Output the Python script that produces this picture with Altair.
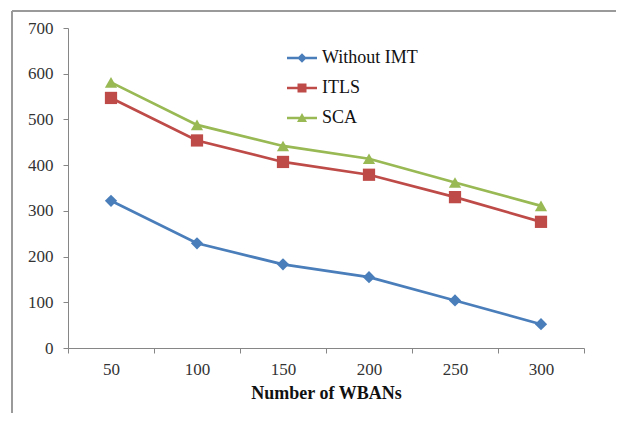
import altair as alt
import pandas as pd

x_labels = ["50", "100", "150", "200", "250", "300"]
series_names = ["Without IMT", "ITLS", "SCA"]
without_imt = [322, 229, 183, 155, 104, 52]
itls = [547, 454, 407, 379, 330, 276]
sca = [581, 488, 442, 414, 362, 311]
colors = ["#4A7EBB", "#BE4B48", "#98B954"]
marker_shapes = ["diamond", "square", "triangle-up"]
y_ticks = [0, 100, 200, 300, 400, 500, 600, 700]

# legend symbols: line segment + marker (unit = sqrt(size)/2 px)
LINE = "M-3.0,-0.25H3.0V0.25H-3.0Z"
legend_paths = [
    LINE + "M0,-0.95L0.95,0L0,0.95L-0.95,0Z",
    LINE + "M-0.9,-0.9H0.9V0.9H-0.9Z",
    LINE + "M0,-1.0L1.0,0.8H-1.0Z",
]

rows = []
for name, vals in zip(series_names, [without_imt, itls, sca]):
    for x, v in zip(x_labels, vals):
        rows.append({"wbans": x, "series": name, "value": v})
df = pd.DataFrame(rows)

FONT = "Liberation Serif, Times New Roman, serif"
AXC = "#868686"

x_enc = alt.X(
    "wbans:N",
    sort=x_labels,
    scale=alt.Scale(type="band", paddingInner=0, paddingOuter=0),
    axis=alt.Axis(
        title="Number of WBANs", labelAngle=0, tickBand="extent", grid=False,
        labelFont=FONT, labelFontSize=17, labelColor="#333333", labelPadding=8,
        titleFont=FONT, titleFontSize=18, titleFontWeight="bold", titleColor="#111111",
        titlePadding=7, domainColor=AXC, tickColor=AXC, tickSize=5,
    ),
)
y_enc = alt.Y(
    "value:Q",
    scale=alt.Scale(domain=[0, 700], nice=False),
    axis=alt.Axis(
        title=None, values=y_ticks, grid=False, labelFont=FONT, labelFontSize=17,
        labelColor="#333333", labelPadding=10, domainColor=AXC, tickColor=AXC, tickSize=5,
    ),
)
col_scale = alt.Scale(domain=series_names, range=colors)

lines = alt.Chart(df).mark_line(strokeWidth=2.7).encode(
    x=x_enc, y=y_enc,
    color=alt.Color("series:N", scale=col_scale, legend=None),
    detail="series:N",
)
points = alt.Chart(df).mark_point(filled=True, opacity=1, size=150).encode(
    x=x_enc, y=y_enc,
    color=alt.Color("series:N", scale=col_scale, legend=None),
    shape=alt.Shape("series:N", scale=alt.Scale(domain=series_names, range=marker_shapes), legend=None),
)

leg_kw = dict(
    orient="none", legendX=225, legendY=21, title=None, labelFont=FONT,
    labelFontSize=18, labelColor="#111111", symbolSize=100, symbolOpacity=1,
    symbolStrokeWidth=0, labelOffset=11, rowPadding=12, padding=0, direction="vertical",
)
legend_layer = alt.Chart(df).mark_point(filled=True, opacity=0, size=100).encode(
    x=x_enc, y=y_enc,
    color=alt.Color("series:N", scale=col_scale, legend=alt.Legend(**leg_kw)),
    shape=alt.Shape("series:N", scale=alt.Scale(domain=series_names, range=legend_paths),
                    legend=alt.Legend(**leg_kw)),
)

frame_df = pd.DataFrame({"k": [0]})
frame_left = alt.Chart(frame_df).mark_rule(color="#9a9a9a", strokeWidth=2).encode(
    x=alt.value(-56), y=alt.value(-17), y2=alt.value(430)
)
frame_top = alt.Chart(frame_df).mark_rule(color="#9a9a9a", strokeWidth=2).encode(
    x=alt.value(-56), x2=alt.value(640), y=alt.value(-17)
)

chart = alt.layer(frame_left, frame_top, lines, points, legend_layer).resolve_scale(
    color="independent", shape="independent"
).properties(
    width=516, height=320,
    autosize=alt.AutoSizeParams(type="none"),
    padding={"left": 60, "top": 20, "right": 32, "bottom": 65},
    background="white",
).configure_view(stroke=None)

chart.save("out.html", embed_options={"renderer": "svg", "actions": False})
